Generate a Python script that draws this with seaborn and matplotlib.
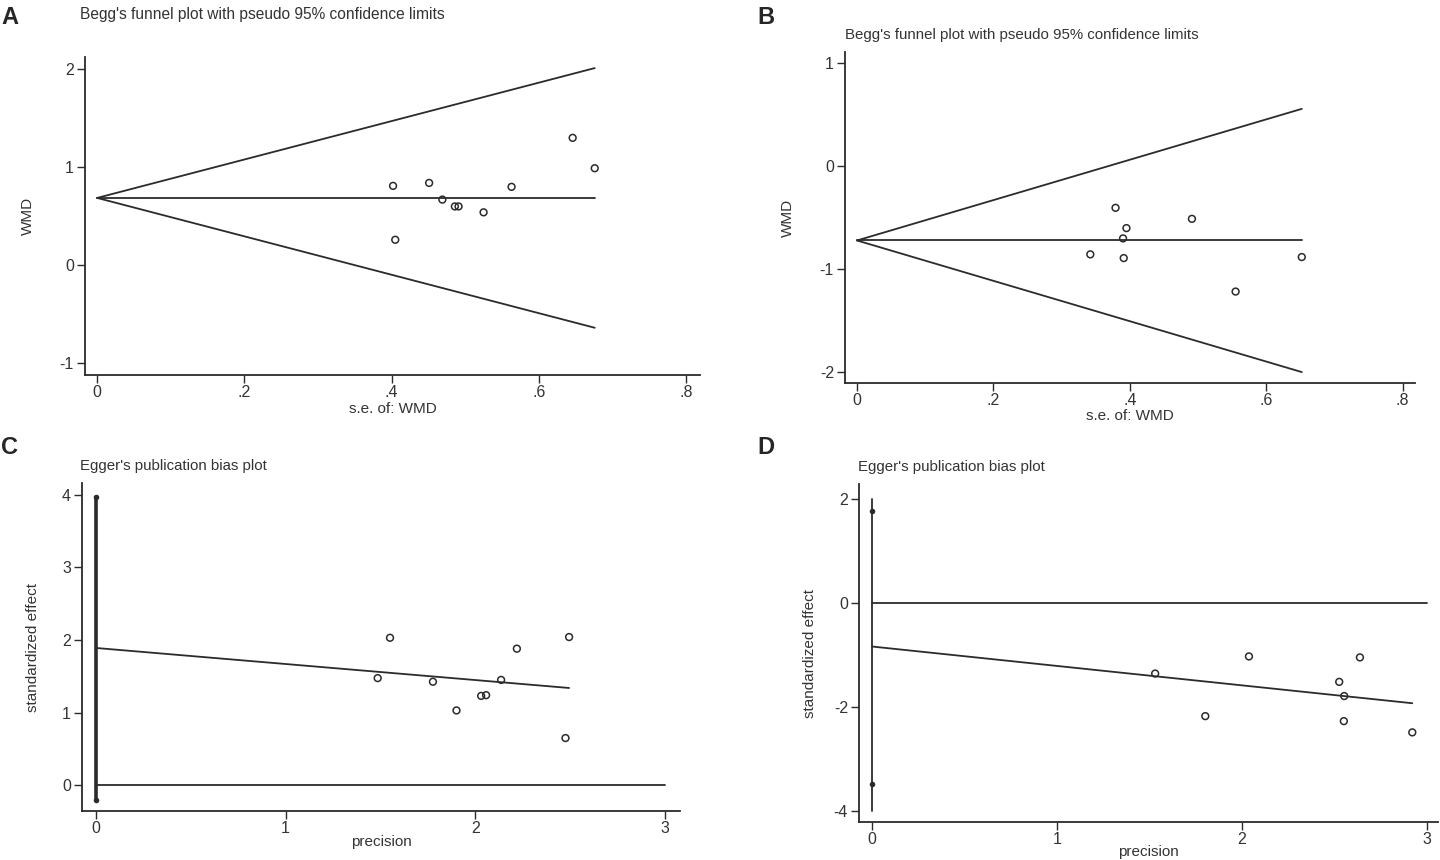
import numpy as np
import pandas as pd
import matplotlib
matplotlib.use("Agg")
import matplotlib.pyplot as plt
import seaborn as sns

# --- data ---
# A: Begg's funnel, WMD
a_se = [0.402, 0.405, 0.451, 0.469, 0.486, 0.491, 0.525, 0.563, 0.646, 0.676]
a_wmd = [0.81, 0.26, 0.84, 0.67, 0.60, 0.60, 0.54, 0.80, 1.30, 0.99]
a_theta = 0.687

# B: Begg's funnel, WMD
b_se = [0.342, 0.379, 0.395, 0.390, 0.391, 0.491, 0.555, 0.652]
b_wmd = [-0.858, -0.406, -0.603, -0.703, -0.894, -0.513, -1.219, -0.884]
b_theta = -0.723

# C: Egger
c_prec = [1.485, 1.55, 1.776, 1.90, 2.03, 2.056, 2.135, 2.218, 2.474, 2.493]
c_eff = [1.475, 2.03, 1.425, 1.03, 1.23, 1.24, 1.45, 1.88, 0.65, 2.04]
c_icpt, c_slope = 1.89, -0.221
c_ci = [-0.20, 3.97]

# D: Egger
d_prec = [1.531, 1.802, 2.038, 2.526, 2.553, 2.551, 2.638, 2.921]
d_eff = [-1.361, -2.181, -1.031, -1.521, -1.794, -2.277, -1.050, -2.494]
d_icpt, d_slope = -0.84, -0.374
d_ci = [-3.48, 1.77]

begg_xticks = [0, 0.2, 0.4, 0.6, 0.8]
begg_xlabels = ["0", ".2", ".4", ".6", ".8"]
a_yticks = [-1, 0, 1, 2]
b_yticks = [-2, -1, 0, 1]
egger_xticks = [0, 1, 2, 3]
c_yticks = [0, 1, 2, 3, 4]
d_yticks = [-4, -2, 0, 2]

sns.set_style("ticks")
plt.rcParams["font.family"] = ["Liberation Sans Narrow", "Liberation Sans", "DejaVu Sans"]
INK = "#2b2b2b"

fig = plt.figure(figsize=(14.4, 8.6), dpi=100)


def axes_px(left, top, right, bottom):
    W, H = 1440, 860
    return fig.add_axes([left / W, 1 - bottom / H, (right - left) / W, (bottom - top) / H])


def style(ax, xticks, xlabels, yticks, xlim, ylim, xlabel, ylabel, ypad, xpad=0):
    ax.set_xlim(*xlim)
    ax.set_ylim(*ylim)
    ax.set_xticks(xticks)
    ax.set_xticklabels(xlabels)
    ax.set_yticks(yticks)
    ax.set_yticklabels([str(t) for t in yticks])
    ax.tick_params(direction="out", length=6, width=1, color=INK, labelsize=11.5, labelcolor="#333333", pad=2)
    ax.tick_params(axis="x", pad=1)
    for s in ["left", "bottom"]:
        ax.spines[s].set_color(INK)
        ax.spines[s].set_linewidth(1.3)
    sns.despine(ax=ax)
    ax.set_xlabel(xlabel, fontsize=11, color="#333333", labelpad=xpad)
    ax.set_ylabel(ylabel, fontsize=11, color="#333333", labelpad=ypad)
    ax.patch.set_alpha(0)


def begg(ax, se, wmd, theta):
    smax = max(se)
    xs = np.array([0, smax])
    lines = pd.DataFrame({
        "x": np.concatenate([xs, xs, xs]),
        "y": np.concatenate([theta + 1.96 * xs, theta - 1.96 * xs, [theta, theta]]),
        "part": ["up", "up", "lo", "lo", "mid", "mid"],
    })
    sns.lineplot(data=lines, x="x", y="y", units="part", estimator=None,
                 color=INK, lw=1.3, ax=ax)
    sns.scatterplot(x=se, y=wmd, ax=ax, marker="o", s=24, facecolor="none",
                    edgecolor=INK, linewidth=1.1)


def egger(ax, prec, eff, icpt, slope, ci, vline, vlw, xt):
    xs = np.array([0, max(prec)])
    sns.lineplot(x=xs, y=icpt + slope * xs, color=INK, lw=1.3, ax=ax, estimator=None)
    sns.lineplot(x=[xt[0], xt[-1]], y=[0, 0], color=INK, lw=1.3, ax=ax, estimator=None)
    sns.lineplot(x=[0, 0], y=vline, color=INK, lw=vlw, ax=ax, sort=False, estimator=None)
    sns.scatterplot(x=[0, 0], y=ci, ax=ax, marker="o", s=16, color=INK, linewidth=0)
    sns.scatterplot(x=prec, y=eff, ax=ax, marker="o", s=24, facecolor="none",
                    edgecolor=INK, linewidth=1.1)


# A
axA = axes_px(85, 57, 700, 375)
begg(axA, a_se, a_wmd, a_theta)
style(axA, begg_xticks, begg_xlabels, a_yticks, (-0.0165, 0.819), (-1.12, 2.125),
      "s.e. of: WMD", "WMD", 18, xpad=1.5)

# B
axB = axes_px(845, 52, 1415, 383)
begg(axB, b_se, b_wmd, b_theta)
style(axB, begg_xticks, begg_xlabels, b_yticks, (-0.0176, 0.818), (-2.107, 1.107),
      "s.e. of: WMD", "WMD", 18, xpad=1)

# C
axC = axes_px(82, 483, 680, 811)
egger(axC, c_prec, c_eff, c_icpt, c_slope, c_ci, c_ci, 2.6, egger_xticks)
style(axC, egger_xticks, [str(t) for t in egger_xticks], c_yticks, (-0.072, 3.077), (-0.354, 4.16),
      "precision", "standardized effect", 16, xpad=-0.5)

# D
axD = axes_px(859, 484, 1438, 822)
egger(axD, d_prec, d_eff, d_icpt, d_slope, d_ci, [d_yticks[0], d_yticks[-1]], 1.3, egger_xticks)
style(axD, egger_xticks, [str(t) for t in egger_xticks], d_yticks, (-0.07, 3.06), (-4.22, 2.29),
      "precision", "standardized effect", 12, xpad=-1.5)

# titles and panel letters
W, H = 1440, 860
fig.text(80 / W, 1 - 14 / H, "Begg's funnel plot with pseudo 95% confidence limits",
         fontsize=11.2, color="#333333", va="center")
fig.text(845 / W, 1 - 35 / H, "Begg's funnel plot with pseudo 95% confidence limits",
         fontsize=10.8, color="#333333", va="center")
fig.text(80 / W, 1 - 466 / H, "Egger's publication bias plot", fontsize=10.8, color="#333333", va="center")
fig.text(858 / W, 1 - 467 / H, "Egger's publication bias plot", fontsize=10.8, color="#333333", va="center")
for lab, x, y in [("A", 1, 18), ("B", 757, 18), ("C", 1, 448), ("D", 757, 448)]:
    fig.text(x / W, 1 - y / H, lab, fontsize=17, fontweight="bold", va="center",
             family=["Liberation Sans", "DejaVu Sans"])

fig.savefig("out.png", dpi=100)
